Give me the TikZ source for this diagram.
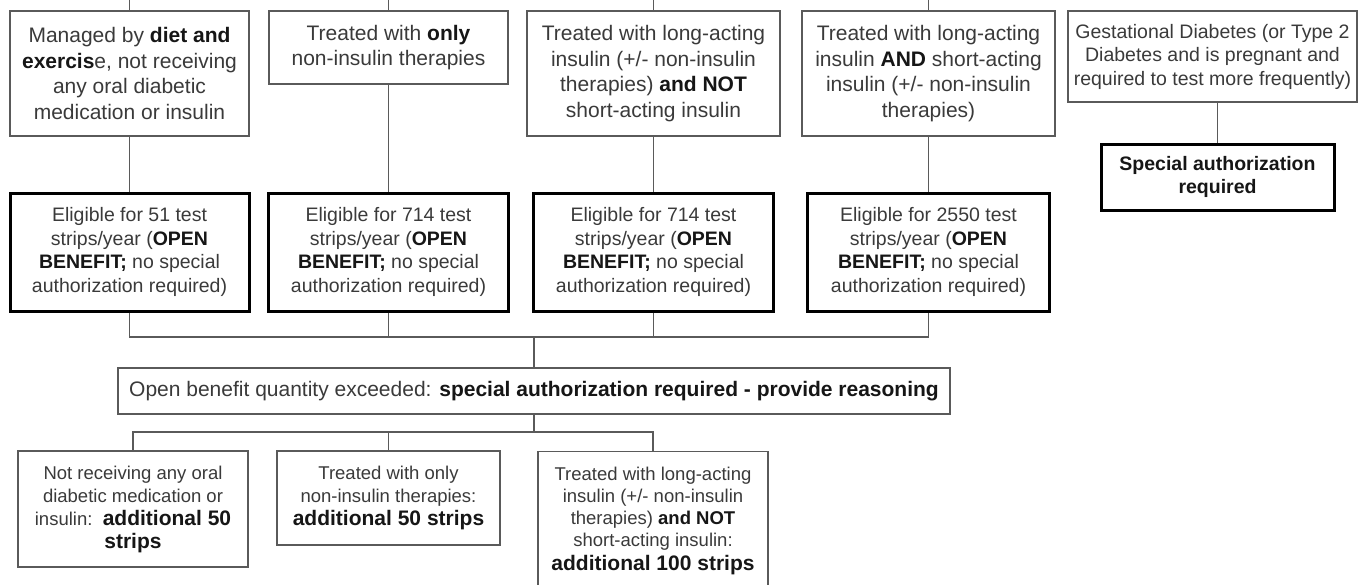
\documentclass[tikz,border=0pt]{standalone}
\usepackage{fontspec}
\setmainfont{Liberation Sans}
\definecolor{linegray}{HTML}{5A5A5A}
\definecolor{textgray}{HTML}{3A3A3A}
\definecolor{boldink}{HTML}{161616}
\newcommand\hb[1]{\textbf{\color{boldink}#1}}
\newcommand\topfont{\fontsize{21}{25.5}\selectfont}
\newcommand\midfont{\fontsize{19.5}{23.5}\selectfont}
\newcommand\smallreg{\fontsize{18.5}{23}\selectfont}
\newcommand\tightreg{\fontsize{18.5}{22}\selectfont}
\newcommand\bigbold[1]{{\fontsize{21}{23}\selectfont\hb{#1}}}
\tikzset{
  plainbox/.style={draw=linegray, line width=1.3pt, text=textgray, align=center,
    inner sep=0pt, fill=white},
  heavybox/.style={plainbox, draw=black, line width=3pt},
  link/.style={draw=linegray, line width=1.3pt},
}
\begin{document}
\begin{tikzpicture}[x=1pt, y=-1pt]
  \fill[white] (0,0) rectangle (1358,584);
  \clip (0,0) rectangle (1358,584);
  \useasboundingbox (0,0) rectangle (1358,584);

  % patient categories
  \node[plainbox, minimum width=239pt, minimum height=125pt, font=\topfont] (t1) at (129.5,73.5)
    {Managed by \hb{diet and}\\ \hb{exercis}e, not receiving\\ any oral diabetic\\ medication or insulin};
  \node[plainbox, minimum width=239pt, minimum height=73pt, font=\topfont] (t2) at (388.5,47.5)
    {Treated with \hb{only}\\ non-insulin therapies};
  \node[plainbox, minimum width=253pt, minimum height=125pt, font=\topfont] (t3) at (653.5,73.5)
    {Treated with long-acting\\ insulin (+/- non-insulin\\ therapies) \hb{and NOT}\\ short-acting insulin};
  \node[plainbox, minimum width=253pt, minimum height=125pt, font=\topfont] (t4) at (928.5,73.5)
    {Treated with long-acting\\ insulin \hb{AND} short-acting\\ insulin (+/- non-insulin\\ therapies)};
  \node[plainbox, minimum width=289pt, minimum height=91pt, font=\midfont] (t5) at (1212.5,56.5)
    {Gestational Diabetes (or Type 2\\ Diabetes and is pregnant and\\ required to test more frequently)};
  \node[heavybox, minimum width=233pt, minimum height=66pt, font=\midfont] (sp) at (1217.5,177)
    {\hb{Special authorization}\\ \hb{required}};

  % open-benefit eligibility
  \node[heavybox, minimum width=239pt, minimum height=118pt, font=\midfont] (e1) at (129.5,252)
    {Eligible for 51 test\\ strips/year (\hb{OPEN}\\ \hb{BENEFIT;} no special\\ authorization required)};
  \node[heavybox, minimum width=240pt, minimum height=118pt, font=\midfont] (e2) at (388.5,252)
    {Eligible for 714 test\\ strips/year (\hb{OPEN}\\ \hb{BENEFIT;} no special\\ authorization required)};
  \node[heavybox, minimum width=240pt, minimum height=118pt, font=\midfont] (e3) at (653.5,252)
    {Eligible for 714 test\\ strips/year (\hb{OPEN}\\ \hb{BENEFIT;} no special\\ authorization required)};
  \node[heavybox, minimum width=242pt, minimum height=118pt, font=\midfont] (e4) at (928.5,252)
    {Eligible for 2550 test\\ strips/year (\hb{OPEN}\\ \hb{BENEFIT;} no special\\ authorization required)};

  % exceeded quantity
  \node[plainbox, minimum width=832pt, minimum height=46pt, font=\topfont] (ob) at (534,391)
    {Open benefit quantity exceeded: \hb{special authorization required - provide reasoning}};

  % additional strips
  \node[plainbox, minimum width=230pt, minimum height=116pt, font=\smallreg] (b1) at (133,509)
    {Not receiving any oral\\ diabetic medication or\\ insulin:\ \ \bigbold{additional 50}\\ \bigbold{strips}};
  \node[plainbox, minimum width=223pt, minimum height=94pt, font=\smallreg] (b2) at (388.5,498)
    {Treated with only\\ non-insulin therapies:\\ \bigbold{additional 50 strips}};
  % this box runs on below the lower edge
  \node[plainbox, minimum width=230pt, inner ysep=15pt, font=\tightreg, anchor=north] (b3) at (653,451)
    {Treated with long-acting\\ insulin (+/- non-insulin\\ therapies) \hb{and NOT}\\ short-acting insulin:\\[2pt]
     \bigbold{additional 100 strips}\rule[-30pt]{0pt}{30pt}};

  % lead-in stubs at the top edge
  \foreach \n in {t1,t2,t3,t4} {
    \coordinate (\n-in) at (\n.north |- 0,0);
    \draw[link] (\n-in) -- (\n.north);
  }

  % category to eligibility
  \foreach \a/\b in {t1/e1,t2/e2,t3/e3,t4/e4} {
    \draw[link] (\a.south) -- (\b.north);
  }
  \draw[link] (t5.south -| sp.north) -- (sp.north);

  % eligibility bus
  \coordinate (busA) at (534,337);
  \draw[link] (e1.south) |- (busA) -| (e4.south);
  \draw[link] (e2.south) -- (e2.south |- busA);
  \draw[link] (e3.south) -- (e3.south |- busA);
  \draw[link] (busA) -- (ob.north -| busA);

  % additional-strips bus
  \coordinate (busB) at (534,432);
  \draw[link] (ob.south -| busB) -- (busB);
  \draw[link] (b1.north) |- (busB) -| (b3.north);
  \draw[link] (b2.north) -- (b2.north |- busB);
\end{tikzpicture}
\end{document}
